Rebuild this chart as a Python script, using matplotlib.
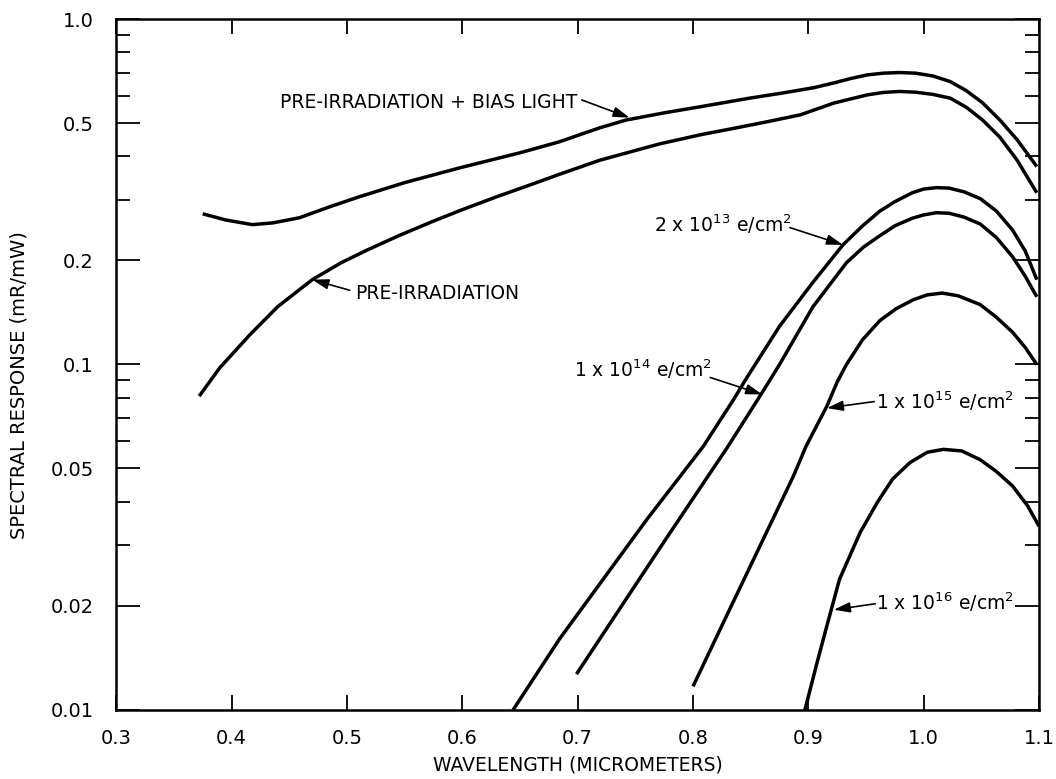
import matplotlib
matplotlib.use('Agg')
import matplotlib.pyplot as plt
from matplotlib.ticker import FixedLocator, FixedFormatter, NullFormatter

plt.rcParams['font.family'] = ['DejaVu Sans']
plt.rcParams['mathtext.default'] = 'regular'

# curve data (wavelength um, response mR/mW)
bias_x = [0.375, 0.395, 0.418, 0.436, 0.459, 0.485, 0.511, 0.55, 0.598, 0.65, 0.684, 0.719,
          0.742, 0.775, 0.806, 0.849, 0.878, 0.905, 0.922, 0.937, 0.951, 0.965, 0.979, 0.993,
          1.008, 1.023, 1.037, 1.051, 1.066, 1.081, 1.098]
bias_y = [0.273, 0.262, 0.254, 0.257, 0.266, 0.286, 0.306, 0.336, 0.371, 0.41, 0.441, 0.484,
          0.51, 0.535, 0.557, 0.59, 0.611, 0.633, 0.653, 0.673, 0.689, 0.697, 0.70, 0.697,
          0.684, 0.659, 0.62, 0.572, 0.51, 0.447, 0.374]

pre_x = [0.372, 0.39, 0.416, 0.44, 0.47, 0.495, 0.517, 0.545, 0.575, 0.598, 0.63, 0.661,
         0.684, 0.719, 0.771, 0.806, 0.836, 0.864, 0.893, 0.922, 0.951, 0.965, 0.979, 0.993,
         1.008, 1.023, 1.037, 1.051, 1.066, 1.081, 1.098]
pre_y = [0.081, 0.098, 0.122, 0.147, 0.176, 0.197, 0.214, 0.236, 0.26, 0.279, 0.306, 0.333,
         0.355, 0.39, 0.435, 0.462, 0.483, 0.504, 0.528, 0.571, 0.603, 0.613, 0.617, 0.614,
         0.605, 0.59, 0.555, 0.51, 0.455, 0.39, 0.314]

e13_x = [0.644, 0.684, 0.76, 0.809, 0.835, 0.847, 0.875, 0.904, 0.93, 0.947, 0.962, 0.975,
         0.99, 1.0, 1.011, 1.022, 1.035, 1.049, 1.063, 1.077, 1.088, 1.098]
e13_y = [0.01, 0.016, 0.0356, 0.058, 0.079, 0.092, 0.129, 0.173, 0.222, 0.252, 0.278, 0.296,
         0.314, 0.322, 0.325, 0.324, 0.316, 0.302, 0.278, 0.245, 0.213, 0.176]

e14_x = [0.699, 0.778, 0.83, 0.86, 0.875, 0.904, 0.933, 0.948, 0.962, 0.975, 0.99, 1.0,
         1.011, 1.022, 1.035, 1.049, 1.063, 1.077, 1.088, 1.098]
e14_y = [0.0127, 0.0318, 0.0577, 0.083, 0.1, 0.147, 0.197, 0.219, 0.236, 0.252, 0.265, 0.271,
         0.275, 0.274, 0.267, 0.255, 0.233, 0.205, 0.18, 0.157]

e15_x = [0.8, 0.829, 0.858, 0.887, 0.898, 0.916, 0.925, 0.933, 0.947, 0.962, 0.976, 0.991,
         1.003, 1.016, 1.03, 1.049, 1.063, 1.077, 1.088, 1.098]
e15_y = [0.0117, 0.0187, 0.0298, 0.0475, 0.058, 0.0757, 0.089, 0.1, 0.118, 0.134, 0.145,
         0.154, 0.159, 0.161, 0.158, 0.149, 0.137, 0.124, 0.112, 0.1]

e16_x = [0.897, 0.907, 0.916, 0.927, 0.945, 0.96, 0.973, 0.988, 1.003, 1.017, 1.033, 1.049,
         1.063, 1.077, 1.09, 1.1]
e16_y = [0.0100, 0.0135, 0.0175, 0.0239, 0.0327, 0.040, 0.0466, 0.052, 0.0557, 0.0568,
         0.0562, 0.053, 0.049, 0.0445, 0.039, 0.034]

curves = [(bias_x, bias_y), (pre_x, pre_y), (e13_x, e13_y),
          (e14_x, e14_y), (e15_x, e15_y), (e16_x, e16_y)]

x_ticks = [0.3, 0.4, 0.5, 0.6, 0.7, 0.8, 0.9, 1.0, 1.1]
x_labels = ['0.3', '0.4', '0.5', '0.6', '0.7', '0.8', '0.9', '1.0', '1.1']
y_ticks = [0.01, 0.02, 0.05, 0.1, 0.2, 0.5, 1.0]
y_labels = ['0.01', '0.02', '0.05', '0.1', '0.2', '0.5', '1.0']
y_minor = [0.03, 0.04, 0.06, 0.07, 0.08, 0.09, 0.3, 0.4, 0.6, 0.7, 0.8, 0.9]

# (text, text xy, ha, arrow start, arrow tip)
notes = [
    ('PRE-IRRADIATION + BIAS LIGHT', (0.700, 0.575), 'right', (0.7036, 0.583), (0.745, 0.518)),
    ('PRE-IRRADIATION', (0.507, 0.161), 'left', (0.5024, 0.164), (0.470, 0.176)),
    (r'2 x 10$^{13}$ e/cm$^{2}$', (0.886, 0.242), 'right', (0.884, 0.249), (0.930, 0.222)),
    (r'1 x 10$^{14}$ e/cm$^{2}$', (0.816, 0.0917), 'right', (0.815, 0.0917), (0.860, 0.0819)),
    (r'1 x 10$^{15}$ e/cm$^{2}$', (0.959, 0.0741), 'left', (0.957, 0.0781), (0.916, 0.0748)),
    (r'1 x 10$^{16}$ e/cm$^{2}$', (0.959, 0.0195), 'left', (0.958, 0.0203), (0.922, 0.0195)),
]

fig = plt.figure(figsize=(10.56, 7.79), dpi=100)
ax = fig.add_axes([0.110, 0.0886, 0.874, 0.887])

for cx, cy in curves:
    ax.plot(cx, cy, color='black', linewidth=2.5, solid_capstyle='butt',
            solid_joinstyle='round')

for txt, pos, ha, start, tip in notes:
    ax.text(pos[0], pos[1], txt, ha=ha, va='center' if '$' not in txt else 'baseline',
            fontsize=13.5)
    ax.annotate('', xy=tip, xytext=start,
                arrowprops=dict(arrowstyle='-|>,head_length=0.7,head_width=0.22',
                                color='black', lw=1.2, mutation_scale=14,
                                shrinkA=0, shrinkB=0))

ax.set_yscale('log')
ax.set_xlim(0.3, 1.1)
ax.set_ylim(0.01, 1.0)

ax.xaxis.set_major_locator(FixedLocator(x_ticks))
ax.xaxis.set_major_formatter(FixedFormatter(x_labels))
ax.xaxis.set_minor_locator(FixedLocator([]))
ax.yaxis.set_major_locator(FixedLocator(y_ticks))
ax.yaxis.set_major_formatter(FixedFormatter(y_labels))
ax.yaxis.set_minor_locator(FixedLocator(y_minor))
ax.yaxis.set_minor_formatter(NullFormatter())

ax.tick_params(axis='x', which='major', direction='in', top=True, length=11, width=1.3,
               labelsize=14, pad=14)
ax.tick_params(axis='y', which='major', direction='in', right=True, length=17, width=1.3,
               labelsize=14, pad=16)
ax.tick_params(axis='y', which='minor', direction='in', right=True, length=10, width=1.3)

for s in ax.spines.values():
    s.set_linewidth(1.8)

ax.set_xlabel('WAVELENGTH (MICROMETERS)', fontsize=13.5)
ax.xaxis.set_label_coords(0.5, -0.066)
ax.set_ylabel('SPECTRAL RESPONSE (mR/mW)', fontsize=14)
ax.yaxis.set_label_coords(-0.095, 0.47)

fig.savefig('out.png', dpi=100)
